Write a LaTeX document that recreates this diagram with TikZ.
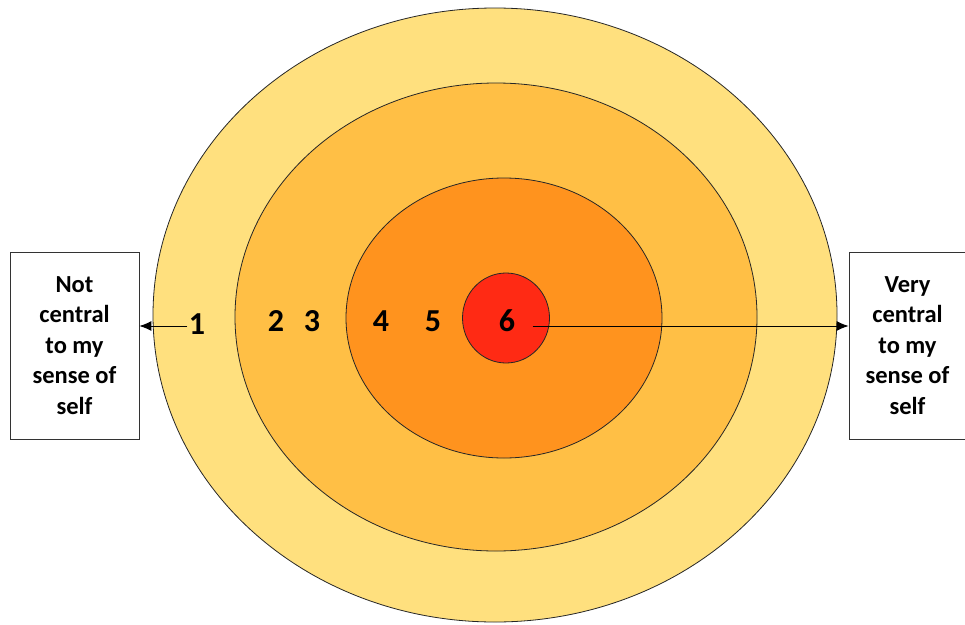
\documentclass[tikz,border=0pt]{standalone}
\usepackage{fontspec}
\setmainfont{Carlito}
\usetikzlibrary{arrows.meta}

\definecolor{ringA}{HTML}{FFE07E}
\definecolor{ringB}{HTML}{FFBF45}
\definecolor{ringC}{HTML}{FF931E}
\definecolor{core}{HTML}{FF2A14}

\begin{document}
\begin{tikzpicture}[x=1pt, y=-1pt, line width=0.8pt,
  ring/.style={draw=black!85},
  label box/.style={draw=black!80, fill=white, align=center, inner sep=0pt,
    font=\bfseries\fontsize{24.5}{30.5}\selectfont},
  num/.style={font=\bfseries\fontsize{32}{32}\selectfont, inner sep=1pt},
  arr/.style={-{Latex[length=12pt, width=10pt]}, line width=1pt}]
  \useasboundingbox (0,0) rectangle (965,624);
  % target rings
  \filldraw[ring, fill=ringA] (495,315) ellipse [x radius=342, y radius=307];
  \filldraw[ring, fill=ringB] (496,317) ellipse [x radius=261, y radius=234];
  \filldraw[ring, fill=ringC] (504,318) ellipse [x radius=158, y radius=140];
  \filldraw[ring, fill=core]  (506,318) ellipse [x radius=43.5, y radius=45];
  % scale
  \node[num] (n1) at (197,324) {1};
  \node[num] (n2) at (276,321) {2};
  \node[num] (n3) at (312,321) {3};
  \node[num] (n4) at (381,321) {4};
  \node[num] (n5) at (433,321) {5};
  \node[num] (n6) at (507,321) {6};
  % end boxes
  \node[label box, minimum width=129, minimum height=187] (notc) at (74.5,345.5)
    {Not\\central\\to my\\sense of\\self};
  \node[label box, minimum width=117, minimum height=187] (veryc) at (907.5,345.5)
    {Very\\central\\to my\\sense of\\self};
  \draw[arr] ([yshift=-2pt]n1.west) -- ([yshift=-2pt]n1.west -| notc.east);
  \draw[arr] ([xshift=16pt, yshift=-5pt]n6.east) -- ([yshift=-5pt]n6.east -| veryc.west);
\end{tikzpicture}
\end{document}
